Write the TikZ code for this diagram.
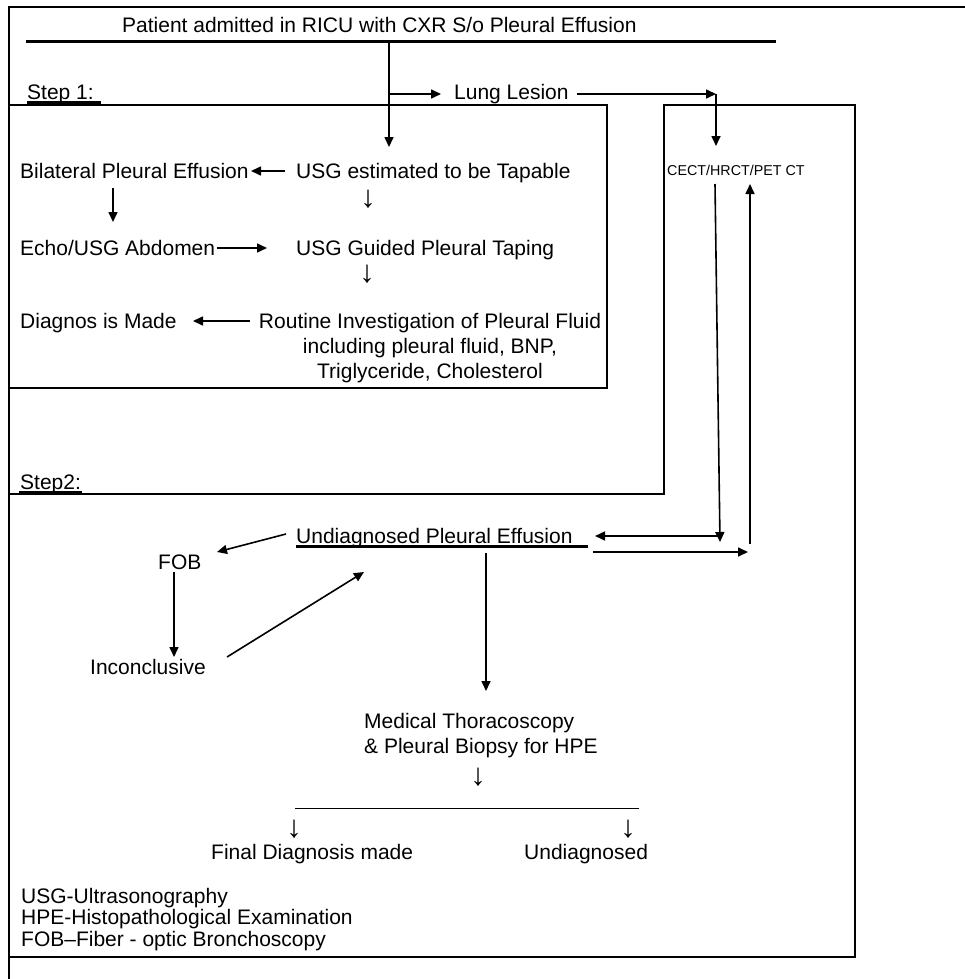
\documentclass[tikz,border=0pt]{standalone}
\usepackage{fontspec}
\setmainfont{Liberation Sans}
\usetikzlibrary{arrows.meta}
\begin{document}
\begin{tikzpicture}[x=1pt,y=-1pt,
  txt/.style={anchor=base west,inner sep=0pt,font=\fontsize{21}{25}\selectfont},
  small/.style={anchor=base west,inner sep=0pt,font=\fontsize{14.3}{17}\selectfont},
  sym/.style={anchor=center,inner sep=0pt,font=\fontsize{31}{34}\selectfont},
  frame/.style={line width=1.6pt,line cap=rect},
  conn/.style={line width=1.6pt,-{Triangle[length=10pt,width=9pt]}},
  bar/.style={line width=3.5pt},
  uline/.style={line width=3pt},
  thin/.style={line width=0.8pt}
]
\useasboundingbox (0,0) rectangle (964,979);

% frames
\draw[frame] (964,7) -- (9,7) -- (9,979);
\draw[frame] (9,105) -- (607,105) -- (607,388) -- (9,388);
\draw[frame] (9,494) -- (664,494) -- (664,105) -- (855,105) -- (855,957) -- (9,957);

% title
\node[txt] (title) at (122,33) {Patient admitted in RICU with CXR S/o Pleural Effusion};
\coordinate (barL) at (26,41.5);
\coordinate (barR) at (776,41.5);
\draw[bar] (barL) -- (barR);

% step labels
\node[txt] (step1) at (27,100) {Step 1:};
\coordinate (s1a) at (27,103);
\coordinate (s1b) at (101,103);
\draw[uline] (s1a) -- (s1b);
\node[txt] (step2) at (20,489) {Step2:};
\coordinate (s2a) at (19,492.5);
\coordinate (s2b) at (82,492.5);
\draw[uline] (s2a) -- (s2b);

% step 1 texts
\node[txt] (lung) at (454,100) {Lung Lesion};
\node[txt] (bil) at (20,178) {Bilateral Pleural Effusion};
\node[txt] (usgE) at (296,178) {USG estimated to be Tapable};
\node[sym] (dA) at (368,199) {↓};
\node[txt] (echo) at (20,255) {Echo/USG Abdomen};
\node[txt] (usgG) at (296,255) {USG Guided Pleural Taping};
\node[sym] (dB) at (367,274) {↓};
\node[txt] (diag) at (20,328) {Diagnos is Made};
\node[anchor=north,inner sep=0pt,align=center,font=\fontsize{21}{25}\selectfont] (rout) at (430,312.7)
  {Routine Investigation of Pleural Fluid\\including pleural fluid, BNP,\\Triglyceride, Cholesterol};

% CT
\node[small] (cect) at (667,175) {CECT/HRCT/PET CT};

% step 2 texts
\node[txt] (und) at (296,543) {Undiagnosed Pleural Effusion};
\coordinate (undA) at (296,546);
\coordinate (undB) at (588,546);
\draw[uline] (undA) -- (undB);
\node[txt] (fob) at (158,569) {FOB};
\node[txt] (inc) at (90,674) {Inconclusive};
\node[anchor=north west,inner sep=0pt,align=left,font=\fontsize{21}{25}\selectfont] (med) at (364,712.7)
  {Medical Thoracoscopy\\\& Pleural Biopsy for HPE};
\node[sym] (dC) at (478,777) {↓};
\coordinate (hlL) at (295,808);
\coordinate (hlR) at (639,808);
\draw[thin] (hlL) -- (hlR);
\node[sym] (dD) at (294,829) {↓};
\node[sym] (dE) at (628,829) {↓};
\node[txt] (fin) at (211,859) {Final Diagnosis made};
\node[txt] (und2) at (524,859) {Undiagnosed};

% legend
\node[anchor=north west,inner sep=0pt,align=left,font=\fontsize{21}{21.5}\selectfont] (legend) at (21,887.7)
  {USG-Ultrasonography\\HPE-Histopathological Examination\\FOB–Fiber - optic Bronchoscopy};

% connector points
\coordinate (mTop) at (389,42);
\coordinate (mJ) at (389,94);
\coordinate (mTip) at (389,147);
\coordinate (lungTip) at (441,94);
\coordinate (lungOut) at (577,94);
\coordinate (ctJ) at (716,94);
\coordinate (ctTip) at (716,146);
\coordinate (ctOut) at (715,184);
\coordinate (rTip) at (720,542);
\coordinate (rJ) at (720,536);
\coordinate (undTip) at (595,536);
\coordinate (undOut) at (593,552);
\coordinate (rIn) at (748,552);
\coordinate (upBase) at (750,544);
\coordinate (upTip) at (750,184);
\coordinate (bilOut) at (285,171);
\coordinate (bilTip) at (251,171);
\coordinate (bilDn) at (113,188);
\coordinate (echoTip) at (113,222);
\coordinate (echoOut) at (217,248);
\coordinate (usgGTip) at (267,248);
\coordinate (routOut) at (250,321);
\coordinate (diagTip) at (193,321);
\coordinate (undFob) at (286,534);
\coordinate (fobTip) at (217,552);
\coordinate (fobDn) at (174,572);
\coordinate (incTip) at (174,657);
\coordinate (incOut) at (227,657);
\coordinate (undIn) at (364,572);
\coordinate (undDn) at (486,553);
\coordinate (medTip) at (486,691);

% connectors
\draw[line width=1.6pt] (mTop) -- (mJ);
\draw[conn] (mJ) -- (mTip);
\draw[conn] (mJ) -- (lungTip);
\draw[conn] (lungOut) -- (ctJ);
\draw[conn] (ctJ) -- (ctTip);
\draw[conn] (ctOut) -- (rTip);
\draw[conn] (rJ) -- (undTip);
\draw[conn] (undOut) -- (rIn);
\draw[conn] (upBase) -- (upTip);
\draw[conn] (bilOut) -- (bilTip);
\draw[conn] (bilDn) -- (echoTip);
\draw[conn] (echoOut) -- (usgGTip);
\draw[conn] (routOut) -- (diagTip);
\draw[conn] (undFob) -- (fobTip);
\draw[conn] (fobDn) -- (incTip);
\draw[conn] (incOut) -- (undIn);
\draw[conn] (undDn) -- (medTip);
\end{tikzpicture}
\end{document}
